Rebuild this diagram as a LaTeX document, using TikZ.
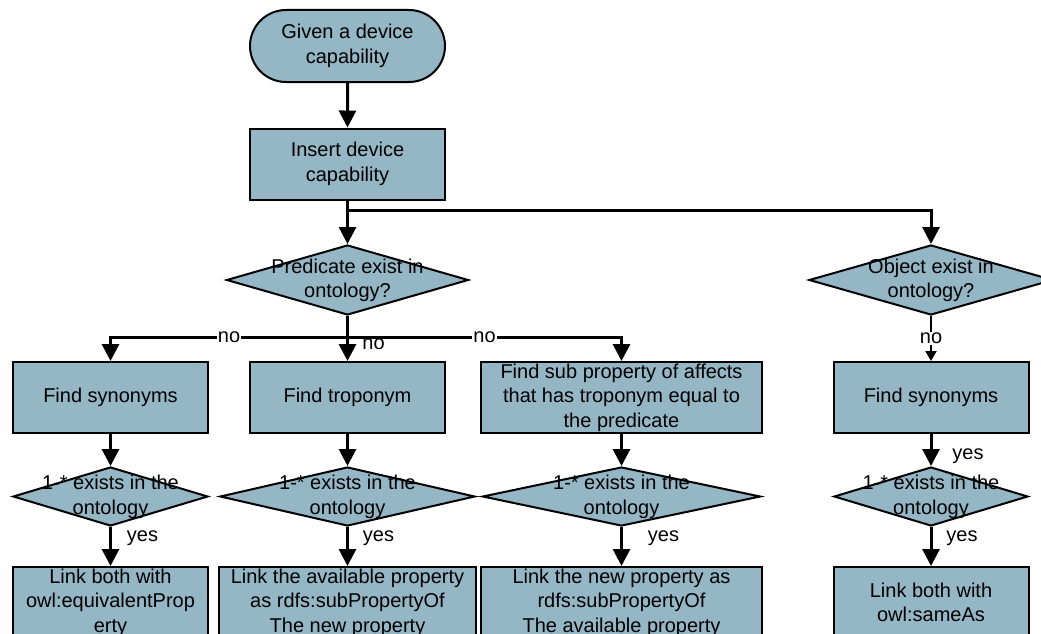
\documentclass[tikz,border=0pt]{standalone}
\usepackage{fontspec}
\setmainfont{Liberation Sans}
\usetikzlibrary{arrows.meta,shapes.geometric,shapes.misc}
\definecolor{stepblue}{RGB}{148,182,197}
% text that may run over the edges of a decision diamond
\newcommand{\wide}[1]{\smash{\raisebox{-.28em}{\makebox[0pt]{\begin{tabular}{@{}c@{}}#1\end{tabular}}}}}

\begin{document}
\begin{tikzpicture}[x=1pt, y=-1pt,
    font=\fontsize{20}{24.5}\selectfont,
    base/.style={draw, line width=2pt, fill=stepblue, inner sep=0pt, align=center},
    startbox/.style={base, rounded rectangle, minimum width=195, minimum height=72},
    stepbox/.style={base, rectangle, minimum width=#1, minimum height=71},
    stepbox/.default=195,
    check/.style 2 args={base, diamond, minimum width=#1, minimum height=#2},
    conn/.style={line width=3pt, -{Triangle[length=17pt,width=17pt]}},
    thinconn/.style={line width=2pt, -{Triangle[length=10pt,width=11pt]}},
    lbl/.style={inner sep=1pt}]
    \useasboundingbox (0,0) rectangle (1041,634);
    \clip (0,0) rectangle (1041,634);

    \node (start) [startbox] at (347.5,46) {Given a device\\capability};
    \node (insert) [stepbox] at (347.5,164) {Insert device\\capability};
    \node (pred) [check={242}{70}] at (347.5,280) {\wide{Predicate exist in\\ontology?}};
    \node (obj) [check={244}{70}] at (931,280) {\wide{Object exist in\\ontology?}};

    \node (syn1) [stepbox] at (110.5,397.5) {Find synonyms};
    \node (trop) [stepbox] at (347.5,397.5) {Find troponym};
    \node (subp) [stepbox=281] at (621.5,397.5) {Find sub property of affects\\that has troponym equal to\\the predicate};
    \node (syn2) [stepbox] at (931,397.5) {Find synonyms};

    \node (ex1) [check={195}{59}] at (110.5,496.5) {\wide{1-* exists in the\\ontology}};
    \node (ex2) [check={255}{59}] at (347.5,496.5) {\wide{1-* exists in the\\ontology}};
    \node (ex3) [check={278}{59}] at (621.5,496.5) {\wide{1-* exists in the\\ontology}};
    \node (ex4) [check={194}{59}] at (931,496.5) {\wide{1-* exists in the\\ontology}};

    \node (link1) [stepbox] at (110.5,602.5) {Link both with\\owl:equivalentProp\\erty};
    \node (link2) [stepbox=257] at (347.5,602.5) {Link the available property\\as rdfs:subPropertyOf\\The new property};
    \node (link3) [stepbox=281] at (621.5,602.5) {Link the new property as\\rdfs:subPropertyOf\\The available property};
    \node (link4) [stepbox] at (931,602.5) {Link both with\\owl:sameAs};

    \coordinate (fork) at (347.5,210);
    \coordinate (psplit) at (347.5,337);

    \draw[conn] (start) -- (insert);
    \draw[conn] (insert) -- (pred);
    \draw[conn] (fork) -| (obj.north);

    % predicate branches
    \draw[line width=3pt] (pred.south) -- (psplit);
    \draw[conn] (psplit) -| node[lbl, fill=white, pos=.25] {no} (syn1.north);
    \draw[conn] (psplit) -- node[lbl, pos=.28, xshift=26] {no} (trop);
    \draw[conn] (psplit) -| node[lbl, fill=white, pos=.25] {no} (subp.north);

    % object branch
    \draw[thinconn] (obj) -- node[lbl, fill=white] {no} (syn2);

    \draw[conn] (syn1) -- (ex1);
    \draw[conn] (trop) -- (ex2);
    \draw[conn] (subp) -- (ex3);
    \draw[conn] (syn2) -- node[lbl, pos=.7, xshift=37] {yes} (ex4);

    \draw[conn] (ex1) -- node[lbl, pos=.29, xshift=32] {yes} (link1);
    \draw[conn] (ex2) -- node[lbl, pos=.29, xshift=31] {yes} (link2);
    \draw[conn] (ex3) -- node[lbl, pos=.29, xshift=42] {yes} (link3);
    \draw[conn] (ex4) -- node[lbl, pos=.29, xshift=31] {yes} (link4);
\end{tikzpicture}
\end{document}
